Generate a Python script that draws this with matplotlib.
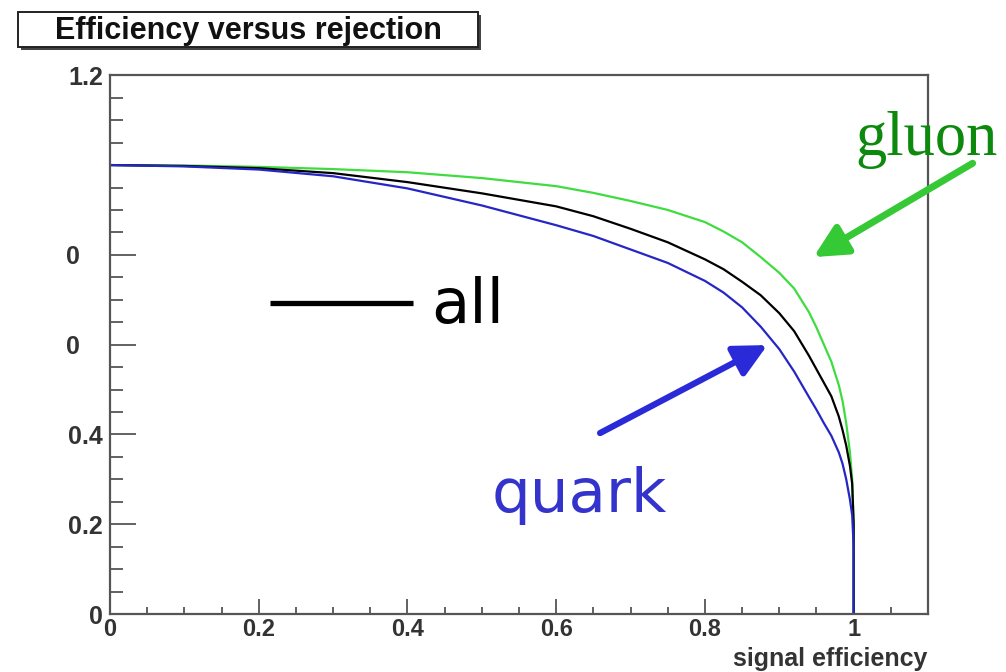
import numpy as np
import matplotlib
matplotlib.use("Agg")
import matplotlib.pyplot as plt
from matplotlib.patches import Rectangle
from matplotlib.ticker import MultipleLocator
from matplotlib.transforms import ScaledTranslation

# signal efficiency vs background rejection
eff = [0.0, 0.1, 0.2, 0.3, 0.4, 0.5, 0.6, 0.65, 0.7, 0.75, 0.8, 0.825, 0.85, 0.875,
       0.9, 0.92, 0.94, 0.95, 0.96, 0.97, 0.98, 0.985, 0.99, 0.995, 0.998, 1.0, 1.0]
rej_quark = [1.0, 0.997, 0.99, 0.975, 0.948, 0.91, 0.866, 0.842, 0.812, 0.782, 0.742,
             0.716, 0.683, 0.64, 0.59, 0.54, 0.483, 0.455, 0.425, 0.397, 0.36, 0.335,
             0.3, 0.255, 0.22, 0.15, 0.0]
rej_all = [1.0, 0.998, 0.993, 0.982, 0.962, 0.937, 0.908, 0.886, 0.858, 0.828, 0.79,
           0.768, 0.74, 0.71, 0.67, 0.63, 0.575, 0.545, 0.515, 0.485, 0.44, 0.41,
           0.375, 0.33, 0.29, 0.2, 0.0]
rej_gluon = [1.0, 0.999, 0.996, 0.991, 0.984, 0.971, 0.953, 0.938, 0.92, 0.9, 0.873,
             0.852, 0.828, 0.795, 0.76, 0.725, 0.672, 0.638, 0.6, 0.562, 0.51, 0.475,
             0.425, 0.36, 0.3, 0.2, 0.0]

xticks = [0, 0.2, 0.4, 0.6, 0.8, 1.0]
xticklabels = ["0", "0.2", "0.4", "0.6", "0.8", "1"]
yticks = [0, 0.2, 0.4, 0.6, 0.8, 1.0, 1.2]
yticklabels = ["0", "0.2", "0.4", "0", "0", "", "1.2"]

plt.rcParams['font.family'] = ['Liberation Sans', 'DejaVu Sans']

fig = plt.figure(figsize=(10.06, 6.72), dpi=100)
ax = fig.add_axes([0.1093, 0.0863, 0.8132, 0.8017])

ax.plot(eff, rej_gluon, color="#3fdc3f", lw=1.6)
ax.plot(eff, rej_all, color="black", lw=1.6)
ax.plot(eff, rej_quark, color="#2626c4", lw=1.6)

ax.set_xlim(0, 1.1)
ax.set_ylim(0, 1.2)

for s in ax.spines.values():
    s.set_color("#555555")
    s.set_linewidth(1.6)

ax.set_xticks(xticks)
ax.set_xticklabels(xticklabels, fontsize=17, fontweight="bold", color="#333333")
ax.set_yticks(yticks)
ax.set_yticklabels(yticklabels, fontsize=18, fontweight="bold", color="#333333")
ax.xaxis.set_minor_locator(MultipleLocator(0.05))
ax.yaxis.set_minor_locator(MultipleLocator(0.05))
ax.tick_params(axis="x", which="major", direction="in", length=11, width=1.3,
               color="#555555", pad=3)
ax.tick_params(axis="x", which="minor", direction="in", length=5, width=1.3,
               color="#555555")
ax.tick_params(axis="y", which="major", direction="in", length=19, width=1.3,
               color="#555555", pad=5)
ax.tick_params(axis="y", which="minor", direction="in", length=9, width=1.3,
               color="#555555")

# the 0.6 / 0.8 labels only show their leading "0"
shift = ScaledTranslation(-16.5 / 72, 0, fig.dpi_scale_trans)
for lab in ax.get_yticklabels()[3:5]:
    lab.set_transform(lab.get_transform() + shift)

fig.text(0.9215, 0.001, "signal efficiency", ha="right", va="bottom",
         fontsize=18, fontweight="bold", color="#333333")

# title box with shadow
fig.patches.append(Rectangle((0.0209, 0.926), 0.457, 0.052, transform=fig.transFigure,
                             facecolor="#444444", edgecolor="none", zorder=1))
fig.patches.append(Rectangle((0.0179, 0.930), 0.457, 0.052, transform=fig.transFigure,
                             facecolor="white", edgecolor="#222222", lw=1.4, zorder=2))
fig.text(0.2465, 0.954, "Efficiency versus rejection", ha="center", va="center",
         fontsize=22, fontweight="bold", color="#111111", zorder=3)

# hand-drawn annotations
ax.plot([0.215, 0.408], [0.693, 0.693], color="black", lw=3.8, solid_capstyle="butt")
ax.text(0.432, 0.648, "all", fontsize=45, color="black", family="DejaVu Sans",
        va="baseline", ha="left")

ax.text(1.002, 1.022, "gluon", fontsize=45, color="#0d8a0d", family="Liberation Serif",
        va="baseline", ha="left", clip_on=False)
ax.annotate("", xy=(0.946, 0.795), xytext=(1.160, 1.004), annotation_clip=False,
            arrowprops=dict(arrowstyle="-|>,head_length=0.9,head_width=0.45",
                            mutation_scale=22, lw=5, color="#36c936",
                            shrinkA=0, shrinkB=0))

ax.text(0.513, 0.227, "quark", fontsize=44, color="#3434cc", family="DejaVu Sans",
        va="baseline", ha="left")
ax.annotate("", xy=(0.884, 0.599), xytext=(0.659, 0.403),
            arrowprops=dict(arrowstyle="-|>,head_length=0.9,head_width=0.45",
                            mutation_scale=22, lw=4.5, color="#2a2ad8",
                            shrinkA=0, shrinkB=0))

fig.savefig("out.png", dpi=100, facecolor="white")
